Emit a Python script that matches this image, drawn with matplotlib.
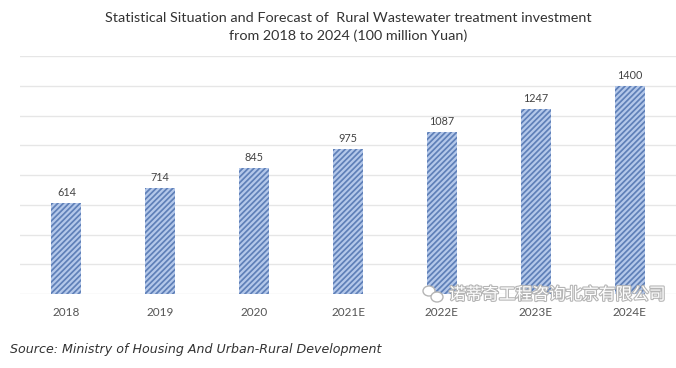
import matplotlib
matplotlib.use("Agg")
import matplotlib.pyplot as plt
import matplotlib.patheffects as pe
from matplotlib.patches import Ellipse

years = ["2018", "2019", "2020", "2021E", "2022E", "2023E", "2024E"]
investment = [614, 714, 845, 975, 1087, 1247, 1400]
y_ticks = [0, 200, 400, 600, 800, 1000, 1200, 1400, 1600]

plt.rcParams['font.family'] = ['Lato', 'DejaVu Sans']
plt.rcParams['hatch.linewidth'] = 1.25

W, H = 676, 368
fig = plt.figure(figsize=(W / 100, H / 100), dpi=100)
ax = fig.add_axes([19.5 / W, 1 - 294 / H, (W - 19) / W, (294 - 56) / H])

ax.bar(years, investment, width=0.32, color="#b4c8ea", edgecolor="#5f80b8",
       hatch="//////", linewidth=0, zorder=3)
for i, v in enumerate(investment):
    ax.annotate(str(v), (i, v), xytext=(0, 3.5), textcoords="offset points",
                ha="center", va="bottom", fontsize=7.8, color="#444444", zorder=4)

ax.set_xlim(-0.5, 6.5)
ax.set_ylim(0, 1600)
ax.set_yticks(y_ticks)
ax.set_yticklabels([])
ax.grid(axis="y", color="#e6e6e6", linewidth=1, zorder=0)
ax.tick_params(axis="both", length=0)
ax.tick_params(axis="x", labelsize=8.5, labelcolor="#555555", pad=9)
for s in ax.spines.values():
    s.set_visible(False)

fig.text(348 / W, 1 - 18 / H, "Statistical Situation and Forecast of  Rural Wastewater treatment investment",
         ha="center", va="center", fontsize=10.4, color="#333333")
fig.text(348 / W, 1 - 36 / H, "from 2018 to 2024 (100 million Yuan)",
         ha="center", va="center", fontsize=10.4, color="#333333")
fig.text(10 / W, 1 - 350 / H, "Source: Ministry of Housing And Urban-Rural Development",
         ha="left", va="center", fontsize=9.1, style="italic", color="#333333",
         family="DejaVu Sans")

# watermark
halo = [pe.withStroke(linewidth=1.6, foreground="#b5b5b5")]
fig.text(665 / W, 1 - 295 / H, "诺蒂奇工程咨询北京有限公司", ha="right", va="center",
         fontsize=12, color="white", path_effects=halo, zorder=10,
         family=["Noto Sans CJK SC", "DejaVu Sans"])
for x, y, w, h in [(429, 291, 12, 10), (437, 297, 12, 10)]:
    fig.add_artist(Ellipse((x / W, 1 - y / H), w / W, h / H, transform=fig.transFigure,
                           facecolor="white", edgecolor="#b5b5b5", linewidth=1, zorder=10))

fig.savefig("out.png", dpi=100, facecolor="white")
